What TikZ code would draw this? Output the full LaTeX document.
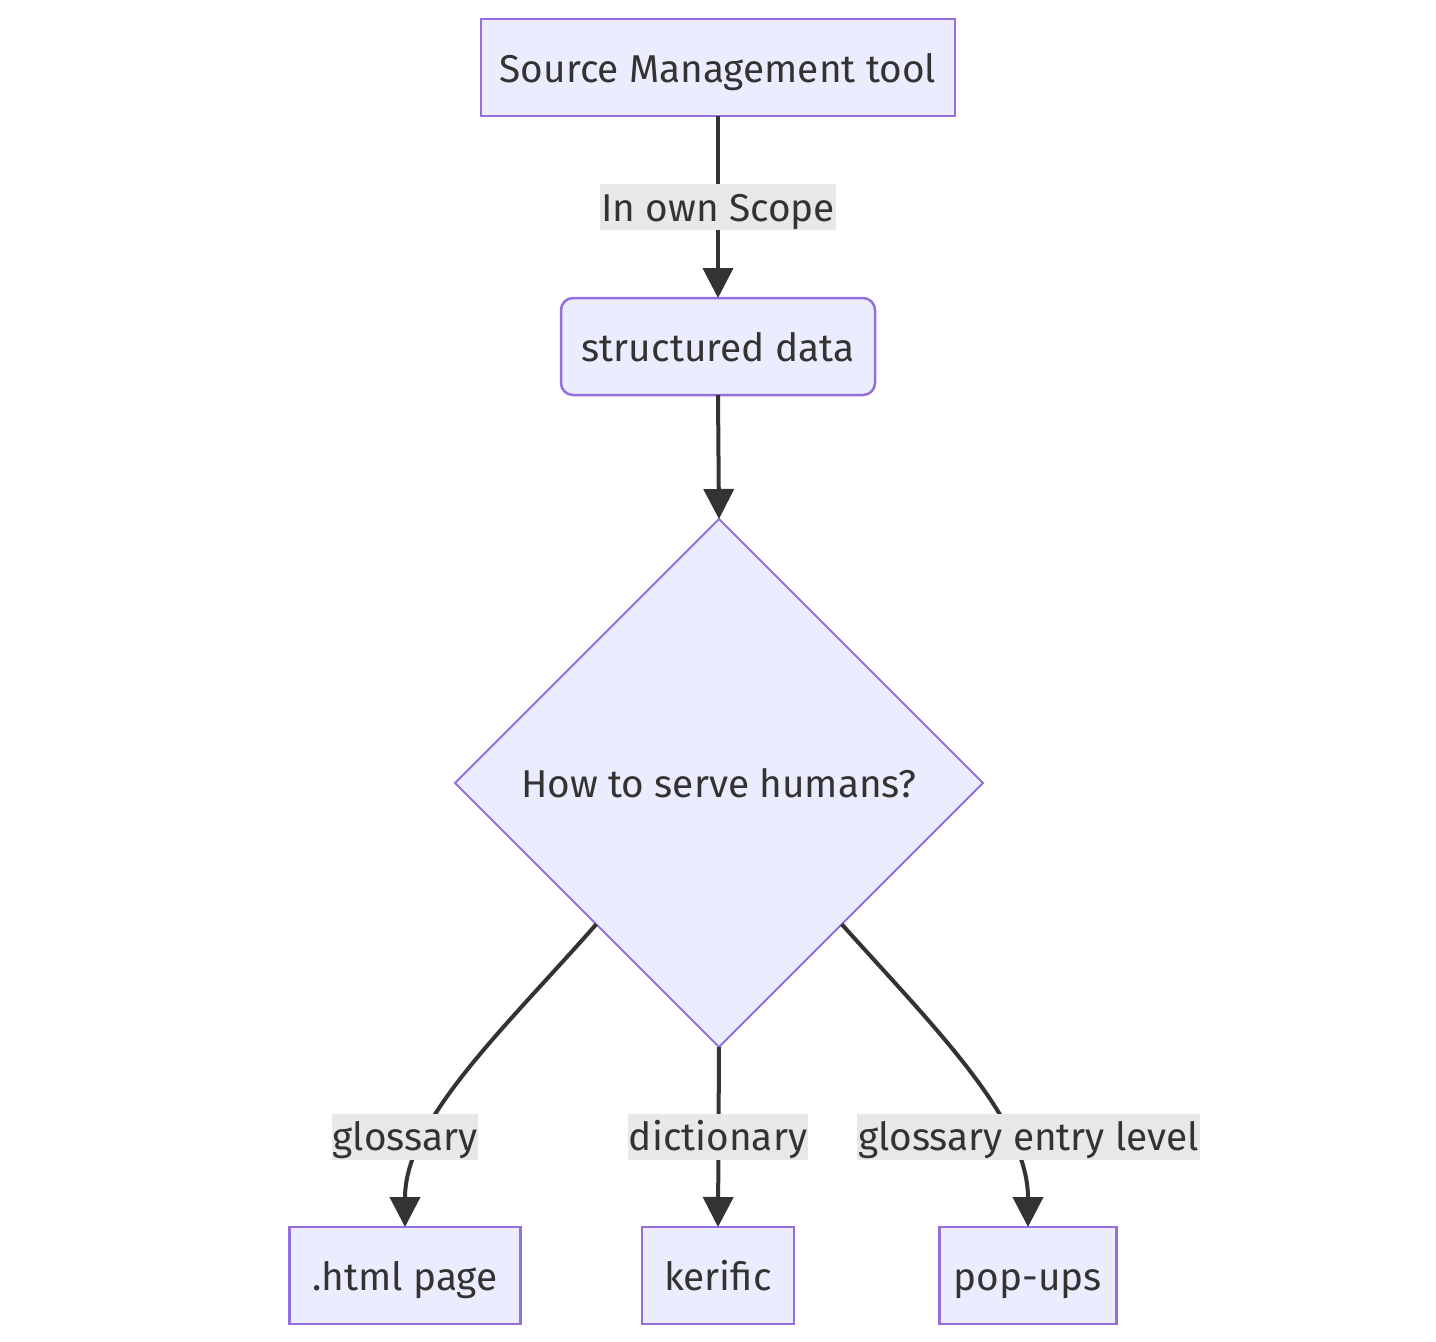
\documentclass[tikz,border=0pt]{standalone}
\usepackage{fontspec}
\setmainfont{Fira Sans}
\usetikzlibrary{shapes.geometric,arrows.meta,calc}
\definecolor{nodefill}{HTML}{ECECFF}
\definecolor{nodeline}{HTML}{9370DB}
\definecolor{edgecol}{HTML}{333333}
\definecolor{lblbg}{HTML}{E8E8E8}
\definecolor{txt}{HTML}{333333}
\begin{document}
\begin{tikzpicture}[x=1pt,y=-1pt,
  font=\fontsize{38.8}{46}\selectfont,
  box/.style={draw=nodeline, fill=nodefill, line width=2.5pt, minimum height=97pt,
    inner sep=0pt, outer sep=0pt, text=txt, text height=37pt, text depth=8pt},
  decision/.style={diamond, draw=nodeline, fill=nodefill, line width=1.8pt,
    minimum width=528pt, minimum height=528pt, aspect=1, inner sep=0pt, outer sep=0pt,
    text=txt, text height=37pt, text depth=8pt},
  edge/.style={draw=edgecol, line width=4pt, -{Triangle[length=30pt,width=30pt]}},
  lbl/.style={fill=lblbg, inner xsep=1pt, inner ysep=0pt, text height=37pt, text depth=9pt, text=txt}]
\useasboundingbox (0,0) rectangle (1436,1342);
\fill[white] (0,0) rectangle (1436,1342);

\node[box, minimum width=474pt] (top) at (718,67.5) {Source Management tool};
\node[box, minimum width=314pt, rounded corners=12pt] (sd) at (718,346.5) {structured data};
\node[decision] (dia) at (719,783) {How to serve humans?};
\node[box, minimum width=231pt] (html) at (405,1275.5) {.html page};
\node[box, minimum width=152pt] (ker) at (718,1275.5) {kerific};
\node[box, minimum width=177pt] (pop) at (1028,1275.5) {pop-ups};

\coordinate (dl) at ($(dia.west)!0.535!(dia.south)$);
\coordinate (dr) at ($(dia.east)!0.535!(dia.south)$);

\draw[edge] (top.south) -- (sd.north);
\draw[edge] (sd.south) -- (dia.north);
\draw[edge] (dl) .. controls (505,1028) and (405,1120) .. (html.north);
\draw[edge] (dia.south) -- (ker.north);
\draw[edge] (dr) .. controls (935,1028) and (1028,1120) .. (pop.north);

\node[lbl] (l1) at (718,207) {In own Scope};
\node[lbl] (l2) at (405,1136.5) {glossary};
\node[lbl] (l3) at (718,1136.5) {dictionary};
\node[lbl] (l4) at (1028.5,1136.5) {glossary entry level};
\end{tikzpicture}
\end{document}
